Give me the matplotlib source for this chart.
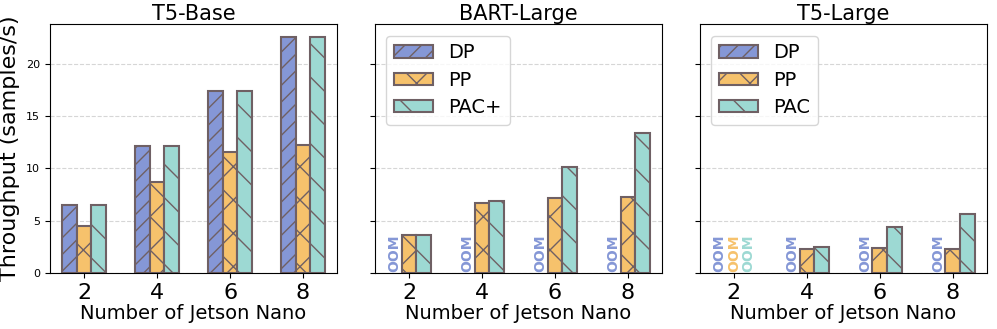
import numpy as np
import matplotlib.pyplot as plt

# dados
nodes = [2, 4, 6, 8]
titles = ["T5-Base", "BART-Large", "T5-Large"]
ours_names = ["PAC+", "PAC+", "PAC"]

t5base_dp = [6.5, 12.15, 17.4, 22.55]
t5base_pp = [4.5, 8.68, 11.6, 12.2]
t5base_pac = [6.5, 12.15, 17.4, 22.55]

bart_dp = [None, None, None, None]
bart_pp = [3.63, 6.65, 7.16, 7.28]
bart_pac = [3.63, 6.87, 10.14, 13.39]

t5large_dp = [None, None, None, None]
t5large_pp = [None, 2.29, 2.36, 2.33]
t5large_pac = [None, 2.51, 4.39, 5.69]

dados = [
    (t5base_dp, t5base_pp, t5base_pac),
    (bart_dp, bart_pp, bart_pac),
    (t5large_dp, t5large_pp, t5large_pac),
]

cores = ["#8597d6", "#f6c26c", "#9dd9d3"]
hachuras = ["//", "x", "\\"]
borda = "#6f6064"

plt.rcParams['hatch.color'] = borda
plt.rcParams['hatch.linewidth'] = 1.0

fig, axes = plt.subplots(1, 3, figsize=(9.97, 3.29), dpi=100, sharey=True)
x = np.arange(len(nodes))
w = 0.2

for i, ax in enumerate(axes):
    series = dados[i]
    nomes = ["DP", "PP", ours_names[i]]
    for j in range(3):
        pos = x + (j - 1) * w
        vals = series[j]
        for k in range(len(nodes)):
            if vals[k] is None:
                ax.text(pos[k], 0.15, "OOM", rotation=90, ha='center', va='bottom',
                        color=cores[j], fontsize=10, fontweight='bold')
        alturas = [v if v is not None else 0 for v in vals]
        mask = [v is not None for v in vals]
        ax.bar(pos[mask], np.array(alturas)[mask], width=w, color=cores[j],
               hatch=hachuras[j], edgecolor=borda, linewidth=1.5, label=nomes[j])
    ax.set_title(titles[i], fontsize=15, pad=3)
    ax.set_xticks(x)
    ax.set_xticklabels(nodes, fontsize=16)
    ax.set_xlabel("Number of Jetson Nano", fontsize=14, labelpad=1)
    ax.set_xlim(-0.47, 3.47)
    ax.set_ylim(0, 23.8)
    ax.set_yticks([0, 5, 10, 15, 20])
    ax.tick_params(axis='y', labelsize=8)
    ax.grid(axis='y', linestyle='--', color='#cccccc', alpha=0.8)
    ax.set_axisbelow(True)
    if i > 0:
        # legenda so no segundo e terceiro
        handles = [plt.Rectangle((0, 0), 1, 1, facecolor=cores[j], hatch=hachuras[j],
                                 edgecolor=borda, linewidth=1.5) for j in range(3)]
        ax.legend(handles, nomes, loc='upper left', fontsize=14,
                  handlelength=2.0, handleheight=0.6, labelspacing=0.42, borderaxespad=0.6)

axes[0].set_ylabel("Throughput (samples/s)", fontsize=16)

plt.subplots_adjust(left=0.05, right=0.99, top=0.927, bottom=0.17, wspace=0.13)
plt.savefig("out.png")
